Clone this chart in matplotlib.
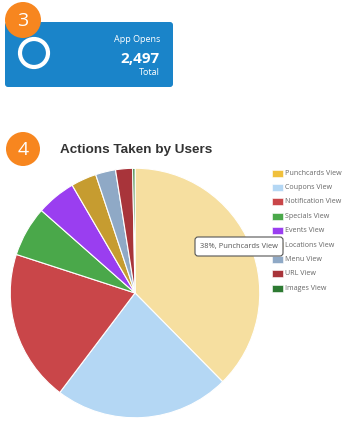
import matplotlib
matplotlib.use("Agg")
import matplotlib.pyplot as plt
from matplotlib.patches import Circle, FancyBboxPatch, Rectangle

# data
actions = ["Punchcards View", "Coupons View", "Notification View", "Specials View",
           "Events View", "Locations View", "Menu View", "URL View", "Images View"]
shares = [37.6, 22.7, 19.7, 6.5, 5.1, 3.3, 2.6, 2.2, 0.3]
pie_colors = ["#f6dfa0", "#b4d7f4", "#c94649", "#4aa84a", "#9a3ef0",
              "#c69c30", "#8fa9c6", "#a8343a", "#2d7a32"]
legend_colors = ["#f0c03c", "#b4d7f4", "#c94649", "#4aa84a", "#9a3ef0",
                 "#c69c30", "#8fa9c6", "#a8343a", "#2d7a32"]
app_opens = 2497
tooltip_text = f"{round(shares[0])}%, {actions[0]}"

W, H = 363, 425
fig = plt.figure(figsize=(W / 100, H / 100), dpi=100)
fig.patch.set_facecolor("white")

# pixel-space overlay axes for cards, badges, title, legend
ov = fig.add_axes([0, 0, 1, 1])
ov.set_xlim(0, W)
ov.set_ylim(H, 0)
ov.axis("off")

ORANGE = "#f7861f"
BLUE = "#1a84c9"
TXT = "Open Sans"

# --- card 3: App Opens
ov.add_patch(FancyBboxPatch((5, 22), 168, 65, boxstyle="round,pad=0,rounding_size=3",
                            facecolor=BLUE, edgecolor="none", zorder=1))
ov.add_patch(Circle((34, 53), 14, facecolor="none", edgecolor="white", lw=3.0, zorder=2))
ov.add_patch(Circle((23, 20), 18, facecolor=ORANGE, edgecolor="none", zorder=3))
ov.text(23, 21, "3", color="white", fontsize=14, family=TXT, ha="center", va="center", zorder=4)
ov.text(160, 39, "App Opens", color="white", fontsize=6.5, family=TXT, ha="right", va="center")
ov.text(160, 59, f"{app_opens:,}", color="white", fontsize=11, family=TXT,
        fontweight="bold", ha="right", va="center")
ov.text(160, 72, "Total", color="white", fontsize=6.5, family=TXT, ha="right", va="center")

# --- section 4 header
ov.add_patch(Circle((23, 149), 17, facecolor=ORANGE, edgecolor="none", zorder=3))
ov.text(23, 150, "4", color="white", fontsize=14, family=TXT, ha="center", va="center", zorder=4)
ov.text(60, 150, "Actions Taken by Users", color="#333333", fontsize=9.7,
        family="Liberation Sans", fontweight="bold", ha="left", va="center")

# --- legend
for i, (lab, col) in enumerate(zip(actions, legend_colors)):
    y = 173 + i * 14.4
    ov.add_patch(Rectangle((272, y - 3.5), 11, 7, facecolor=col, edgecolor="white", lw=0.4))
    ov.text(285, y, lab, color="#666666", fontsize=5.1, family=TXT, ha="left", va="center")

# --- pie
cx, cy, r = 135, 293, 126
pax = fig.add_axes([(cx - r) / W, 1 - (cy + r) / H, 2 * r / W, 2 * r / H])
pax.pie(shares, colors=pie_colors, startangle=90, counterclock=False, radius=1,
        wedgeprops=dict(edgecolor="white", linewidth=0.8))
pax.set_xlim(-1.01, 1.01)
pax.set_ylim(-1.01, 1.01)
pax.set_aspect("equal")
pax.axis("off")

# --- tooltip (drawn over pie and legend)
tip = fig.add_axes([0, 0, 1, 1], zorder=10)
tip.set_xlim(0, W)
tip.set_ylim(H, 0)
tip.axis("off")
tip.add_patch(FancyBboxPatch((195, 237), 88, 19, boxstyle="round,pad=0,rounding_size=3",
                             facecolor="white", edgecolor="#555555", lw=0.8))
tip.text(200, 246.5, tooltip_text, color="#555555", fontsize=5.4, family=TXT,
         ha="left", va="center")

fig.savefig("out.png", dpi=100, facecolor="white")
